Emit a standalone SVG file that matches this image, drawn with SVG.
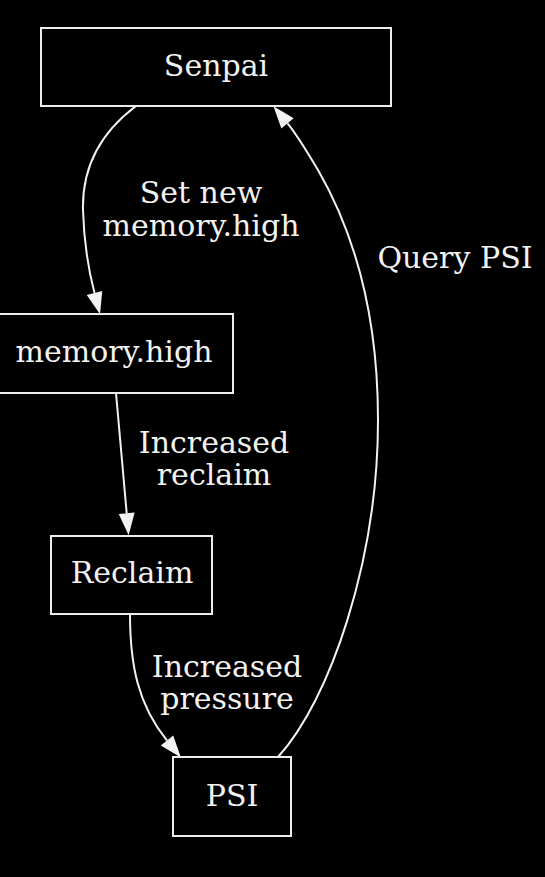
<svg xmlns="http://www.w3.org/2000/svg" width="545" height="877" viewBox="0 0 545 877">
<style>
.bg{fill:#000}
.box{fill:#000;stroke:#ececec;stroke-width:2}
.t{font-family:"DejaVu Serif","Liberation Serif",serif;font-size:30px;fill:#f2f2f2;text-anchor:middle}
.e{fill:none;stroke:#f2f2f2;stroke-width:2}
</style>
<defs>
<marker id="ah" markerUnits="userSpaceOnUse" markerWidth="23" markerHeight="18" refX="0" refY="9" orient="auto" overflow="visible">
<path d="M0,1 L22,9 L0,17 z" fill="#f2f2f2"/>
</marker>
</defs>
<rect class="bg" x="0" y="0" width="545" height="877"/>
<g id="connectors">
<path class="e" marker-end="url(#ah)" d="M136,106 C100,133 82,168 83,210 C84,245 88,268 94.5,293"/>
<path class="e" marker-end="url(#ah)" d="M116,393 L126.7,513.3"/>
<path class="e" marker-end="url(#ah)" d="M130,614 C130,665 138,705 167,740.5"/>
<path class="e" marker-end="url(#ah)" d="M278,757 C330,700 378,560 378,420 C378,300 348,222 318,170 C306,150 298,136 287.5,123.3"/>
<text class="t" x="201" y="203">Set new</text>
<text class="t" x="201" y="236">memory.high</text>
<text class="t" x="455" y="268">Query PSI</text>
<text class="t" x="214" y="453">Increased</text>
<text class="t" x="214" y="485">reclaim</text>
<text class="t" x="227" y="677">Increased</text>
<text class="t" x="227" y="709">pressure</text>
</g>
<g id="senpai">
<rect class="box" x="41" y="28" width="350" height="78"/>
<text class="t" x="216" y="76">Senpai</text>
</g>
<g id="memory_high">
<rect class="box" x="-2" y="314" width="235" height="79"/>
<text class="t" x="114" y="362">memory.high</text>
</g>
<g id="reclaim">
<rect class="box" x="51" y="536" width="161" height="78"/>
<text class="t" x="132" y="583">Reclaim</text>
</g>
<g id="psi">
<rect class="box" x="173" y="757" width="118" height="79"/>
<text class="t" x="232" y="806">PSI</text>
</g>
</svg>
